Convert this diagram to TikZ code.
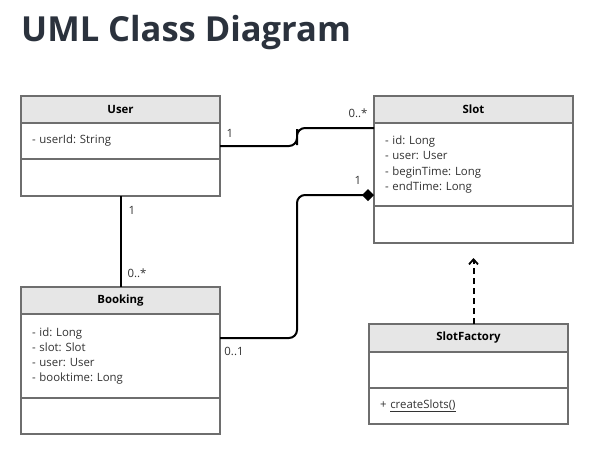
\documentclass[tikz,border=0pt]{standalone}
\usepackage{fontspec}
\setmainfont{Open Sans}
\usetikzlibrary{arrows.meta,positioning}
\definecolor{titlec}{HTML}{2B323D}
\definecolor{boxline}{HTML}{6E6E6E}
\definecolor{hdrfill}{HTML}{E6E6E6}
\definecolor{txt}{HTML}{333333}
\frenchspacing
\tikzset{
  sect/.style={draw=boxline, line width=1.3pt, minimum width=199pt, text width=177pt,
    inner xsep=11pt, inner ysep=0pt, outer sep=0pt, align=left, anchor=north west,
    font=\fontsize{11.4}{15.3}\selectfont\frenchspacing, text=txt},
  hdr/.style={sect, fill=hdrfill, align=center, minimum height=27pt,
    font=\fontsize{11.4}{13}\selectfont\bfseries, text=black},
  conn/.style={line width=2pt, rounded corners=8pt},
  mult/.style={font=\fontsize{11.4}{13}\selectfont, text=txt, inner sep=0pt},
  dep/.style={line width=2pt, dash pattern=on 6pt off 4pt, -{Straight Barb[length=5pt,width=9pt,line width=1.8pt]}},
}
\begin{document}
\begin{tikzpicture}[x=1pt,y=-1pt]
\useasboundingbox (0,0) rectangle (600,453);
\fill[white] (0,0) rectangle (600,453);
\node[anchor=base west, inner sep=0pt, text=titlec, font=\fontsize{34.5}{40}\selectfont\bfseries] (title) at (21,41) {UML Class Diagram};

% User
\node[hdr] (userH) at (21,96) {User};
\node[sect, minimum height=36pt] (userA) at (userH.south west) {- userId: String};
\node[sect, minimum height=37pt] (userO) at (userA.south west) {};

% Slot
\node[hdr] (slotH) at (374,96) {Slot};
\node[sect, minimum height=83pt] (slotA) at (slotH.south west) {- id: Long\\- user: User\\- beginTime: Long\\- endTime: Long};
\node[sect, minimum height=37pt] (slotO) at (slotA.south west) {};

% Booking
\node[hdr] (bookH) at (21,287) {Booking};
\node[sect, minimum height=84pt] (bookA) at (bookH.south west) {- id: Long\\- slot: Slot\\- user: User\\- booktime: Long};
\node[sect, minimum height=36pt] (bookO) at (bookA.south west) {};

% SlotFactory
\node[hdr, minimum height=28pt] (sfH) at (369,324) {SlotFactory};
\node[sect, minimum height=36pt] (sfA) at (sfH.south west) {};
\node[sect, minimum height=36pt] (sfO) at (sfA.south west) {+ \underline{createSlots()}};

% connectors
\coordinate (us1) at ([yshift=-5pt]userA.east);
\coordinate (us2) at ([yshift=-5pt]slotA.north west);
\draw[conn] (us1) -| (297,137) |- (us2);

\draw[line width=2pt] (userO.south) -- (bookH.north);

\coordinate (bs1) at ([yshift=-24pt]bookA.north east);
\coordinate (bs2) at ([yshift=-72pt]slotA.north west);
\draw[conn, -{Diamond[length=12pt,width=12pt]}] (bs1) -| (297,260) |- (bs2);

\coordinate (tip) at ([yshift=-15pt]slotO.south);
\draw[dep] (sfH.north -| tip) -- (tip);

% multiplicities
\node[mult] (m1) at (230,133) {1};
\node[mult] (m2) at (358,113) {0..*};
\node[mult] (m3) at (132,210) {1};
\node[mult] (m4) at (137,273) {0..*};
\node[mult] (m5) at (234,351) {0..1};
\node[mult] (m6) at (358,180) {1};
\end{tikzpicture}
\end{document}
